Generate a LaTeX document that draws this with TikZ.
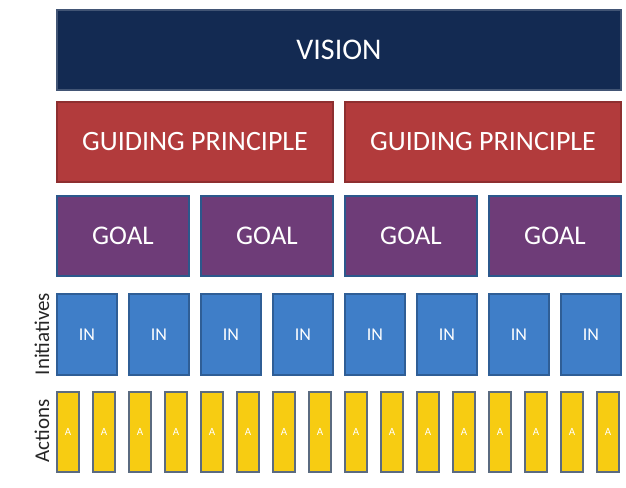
\documentclass[tikz,border=0pt]{standalone}
\usepackage{fontspec}
\setmainfont{Carlito}
\usetikzlibrary{positioning}
\definecolor{visionblue}{HTML}{132A52}
\definecolor{guidered}{HTML}{B23B3C}
\definecolor{goalpurple}{HTML}{6E3C78}
\definecolor{initblue}{HTML}{3F7EC8}
\definecolor{actyellow}{HTML}{F7CC12}
\definecolor{actedge}{HTML}{5B6B80}
\tikzstyle{box} = [rectangle, inner sep=0pt, outer sep=0pt, anchor=north west, text centered, line width=1.2pt, text=white]
\tikzstyle{vision} = [box, fill=visionblue, draw=visionblue!80!white, minimum width=564pt, minimum height=80pt, font=\fontsize{30}{32}\selectfont]
\tikzstyle{guide} = [box, fill=guidered, draw=guidered!80!black, minimum width=276pt, minimum height=80pt, font=\fontsize{28}{30}\selectfont]
\tikzstyle{goal} = [box, fill=goalpurple, draw=initblue!70!black, minimum width=132pt, minimum height=80pt, font=\fontsize{27}{29}\selectfont]
\tikzstyle{init} = [box, fill=initblue, draw=initblue!75!black, minimum width=60pt, minimum height=81pt, font=\fontsize{18}{20}\selectfont]
\tikzstyle{act} = [box, fill=actyellow, draw=actedge, line width=1.5pt, minimum width=22pt, minimum height=80pt, font=\fontsize{11}{12}\selectfont]
\tikzstyle{side} = [rotate=90, text=black!85, font=\fontsize{21}{23}\selectfont]

\begin{document}
\begin{tikzpicture}[x=1pt, y=-1pt]
	\useasboundingbox (0,0) rectangle (626,487);
	\node (vision) [vision] at (57,10) {VISION};
	\node (gp1) [guide] at (57,102) {GUIDING PRINCIPLE};
	\node (gp2) [guide] at (345,102) {GUIDING PRINCIPLE};
	\foreach \i in {1,...,4}
		\node (goal\i) [goal] at ({57+144*(\i-1)},196) {GOAL};
	\foreach \i in {1,...,8}
		\node (in\i) [init] at ({57+72*(\i-1)},294) {IN};
	\foreach \i in {1,...,8} {
		\node (act\i a) [act] at ({57+72*(\i-1)},392) {A};
		\node (act\i b) [act] at ({93+72*(\i-1)},392) {A};
	}
	\node (initlabel) [side] at (42,334) {Initiatives};
	\node (actlabel) [side] at (42,431) {Actions};
\end{tikzpicture}
\end{document}
